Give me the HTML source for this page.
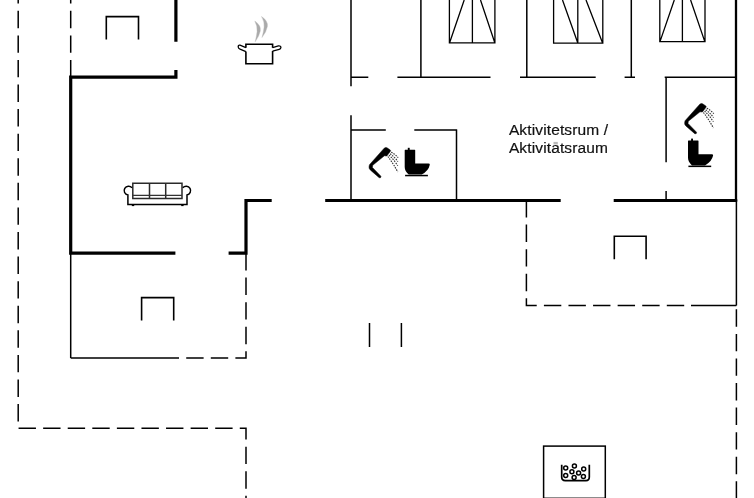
<!DOCTYPE html>
<html><head><meta charset="utf-8"><style>
html,body{margin:0;padding:0;background:#fff;width:754px;height:498px;overflow:hidden}
svg{display:block}
text{font-family:"Liberation Sans",sans-serif}
.t{will-change:transform}
</style></head><body>
<svg width="754" height="498" viewBox="0 0 754 498">
<g fill="none" stroke="#000" stroke-linecap="butt">
<!-- dashed lines -->
<g stroke-width="1.5" stroke-dasharray="17.4 7.18">
<polyline points="18.2,-13.78 18.2,428.3 246,428.3 246,520"/>
<polyline points="70.7,-13.78 70.7,77"/>
<polyline points="246,253 246,358.1 180,358.1"/>
<polyline points="526.4,200 526.4,305.4 691,305.4"/>
<polyline points="736.4,309.3 736.4,520"/>
</g>
<!-- thick walls -->
<g stroke-width="3.2">
<path d="M69.1 77.1H177.5M175.9 70V78.7M70.7 75.5V254.7M175.9 -2V41.8M69.1 253.1H175.4M228.6 253.1H247.6M246 198.9V254.7M244.4 200.5H271.7M325.2 200.5H560.7M613.7 200.5H737.2"/>
</g>
<path d="M736 -2V201" stroke-width="2.3"/>
<!-- thin walls -->
<g stroke-width="1.5">
<path d="M70.7 253V358.1M70.7 358.1H179M351 -2V86.3M351 115.2V200M350.3 77.2H368.3M397.4 77.2H490.5M520 77.2H595.7M624.6 77.2H635M664.7 77.2H736M420.9 -2V77.2M526.8 -2V77.2M631.3 -2V77.2M350.3 129.9H385.8M414.3 129.9H457.2M456.5 129.9V200M666.1 77.2V162.3M666.1 190.9V200M736.4 200V305.4M691 305.4H736.4M369.5 323V347.1M401.4 323V347.1"/>
<rect x="543.6" y="446.1" width="61.7" height="52.2"/>
</g>
<!-- brackets -->
<g stroke-width="1.6">
<polyline points="106.3,39.5 106.3,16.6 138.5,16.6 138.5,39.5"/>
<polyline points="141.6,320.6 141.6,297.6 173.7,297.6 173.7,320.6"/>
<polyline points="614.3,259.2 614.3,236.2 646.1,236.2 646.1,259.2"/>
</g>
<!-- beds -->
<g stroke-width="1.3">
<path d="M449.4 -2V42.8H494.9V-2M472.4 -2V42.8M449.6 42.8L464.2 0M494.8 42.8L480.5 0"/>
<path d="M553.6 -2V43.2H602.8V-2M577.8 -2V43.2M577.8 43L562.5 0M602.6 43L586 0"/>
<path d="M659.8 -2V41.6H705V-2M682.4 -2V41.6M660 41.6L674.3 0M704.8 41.6L690.6 0"/>
</g>
</g>

<!-- pot -->
<g fill="none" stroke="#000" stroke-linejoin="miter">
<path d="M245.9 47.8V44.3H272.6V47.8M272.6 51V63.8H245.9V51.4" stroke-width="1.6"/>
<path d="M245.9 47.6L240 45.2Q238.1 44.8 238.2 47Q238.5 48.6 240 49.1L245.9 51.6" stroke-width="1.3"/>
<path d="M272.6 47.6L278.4 45.9Q281 45.6 280.9 47.6Q280.6 49 279.2 49.4L272.6 51.2" stroke-width="1.3"/>
</g>
<g fill="#aaa" stroke="#bbb" stroke-width="0.4">
<path d="M254.8 21Q261.3 25.5 260.3 31Q259.3 36 255.2 41.8Q256.6 36 257.1 31.5Q257.6 26 254.8 21Z"/>
<path d="M261.5 16.5Q268.3 21 267.4 26.5Q266.4 32 262 37.5Q263.6 32 264.1 27Q264.6 21.5 261.5 16.5Z"/>
</g>
<!-- sofa -->
<g fill="none">
<path d="M132.8 183.2H182V198.5H132.8ZM149.5 183.2V198.5M165.7 183.2V198.5" stroke="#2a2a2a" stroke-width="1.5"/><path d="M132.8 195.4H182" stroke="#333" stroke-width="1.2"/>
<path d="M132 187.8A4.4 4.4 0 1 0 127.9 194.9V204.4H187V194.9A4.4 4.4 0 1 0 182.8 187.8" stroke="#000" stroke-width="1.5"/>
</g>
<rect x="131.8" y="204.5" width="2.4" height="1.6" fill="#000"/>
<rect x="181.2" y="204.5" width="2.4" height="1.6" fill="#000"/>
<!-- shower+toilet def -->

<g>
<path d="M369.5 164.7L384.2 148.2Q385.6 147 387 147.8L390.2 149.9Q390.9 150.6 390.4 151.3L386.8 156L384.4 155.8L372.7 165.3L372.4 167.4L380.9 176.2Q381.2 177.2 380.4 177.7L379.2 177.7L370.3 170Q368.5 168.2 369.1 166.2Z" fill="#000" stroke="#000" stroke-width="0.5" stroke-linejoin="round"/>
<g fill="none" stroke="#333" stroke-width="1.15" stroke-dasharray="1.5 1.1">
<path d="M391.2 152.3Q395.2 154.2 398.2 157.7"/>
<path d="M390.1 153.7Q394.6 157 397.9 161.6"/>
<path d="M389 155.1Q393.8 159.6 397.8 165.8"/>
<path d="M387.8 156.5Q393 163 397.8 172"/>
</g>
</g>
<g transform="translate(315.6,-44)">
<path d="M369.5 164.7L384.2 148.2Q385.6 147 387 147.8L390.2 149.9Q390.9 150.6 390.4 151.3L386.8 156L384.4 155.8L372.7 165.3L372.4 167.4L380.9 176.2Q381.2 177.2 380.4 177.7L379.2 177.7L370.3 170Q368.5 168.2 369.1 166.2Z" fill="#000" stroke="#000" stroke-width="0.5" stroke-linejoin="round"/>
<g fill="none" stroke="#333" stroke-width="1.15" stroke-dasharray="1.5 1.1">
<path d="M391.2 152.3Q395.2 154.2 398.2 157.7"/>
<path d="M390.1 153.7Q394.6 157 397.9 161.6"/>
<path d="M389 155.1Q393.8 159.6 397.8 165.8"/>
<path d="M387.8 156.5Q393 163 397.8 172"/>
</g>
</g>
<g>
<path d="M404.7 150.3Q404.7 149.8 405.2 149.8H414.7Q415.2 149.8 415.2 150.3V163.4H428.5Q430 163.4 429.8 164.8Q428.5 171 421.7 174.6H408.7Q404.7 171 404.7 167Z" fill="#000"/>
<rect x="407.8" y="147.8" width="1.9" height="2.5" fill="#000"/>
<rect x="405.1" y="174.8" width="22.8" height="1.5" fill="#000"/>
</g>
<g transform="translate(283.3,-9.2)">
<path d="M404.7 150.3Q404.7 149.8 405.2 149.8H414.7Q415.2 149.8 415.2 150.3V163.4H428.5Q430 163.4 429.8 164.8Q428.5 171 421.7 174.6H408.7Q404.7 171 404.7 167Z" fill="#000"/>
<rect x="407.8" y="147.8" width="1.9" height="2.5" fill="#000"/>
<rect x="405.1" y="174.8" width="22.8" height="1.5" fill="#000"/>
</g>
<!-- jacuzzi -->
<g fill="none" stroke="#000">
<path d="M561.7 464.8V477Q561.7 480.6 565.3 480.6H586Q589.3 480.6 589.3 477V464.8" stroke-width="1.7"/>
<g stroke-width="1.5">
<circle cx="565.7" cy="468.1" r="2"/>
<circle cx="574.4" cy="466.1" r="2"/>
<circle cx="583.7" cy="469" r="2"/>
<circle cx="571.9" cy="471.8" r="2"/>
<circle cx="578.6" cy="472.9" r="2"/>
<circle cx="565.7" cy="475.4" r="2"/>
<circle cx="574.1" cy="477.4" r="2"/>
<circle cx="583.4" cy="476.5" r="2"/>
</g>
</g>
<!-- text -->
<g class="t">
<text x="508.9" y="135.3" font-size="15.5" letter-spacing="0.13" fill="#111" stroke="#111" stroke-width="0.2">Aktivitetsrum /</text>
<text x="508.9" y="153.4" font-size="15.5" letter-spacing="0.13" fill="#111" stroke="#111" stroke-width="0.2">Aktivitatsraum</text>
<rect x="553.5" y="141.9" width="4.3" height="2.5" fill="#b9b9b9"/>
</g>
</svg>
</body></html>
